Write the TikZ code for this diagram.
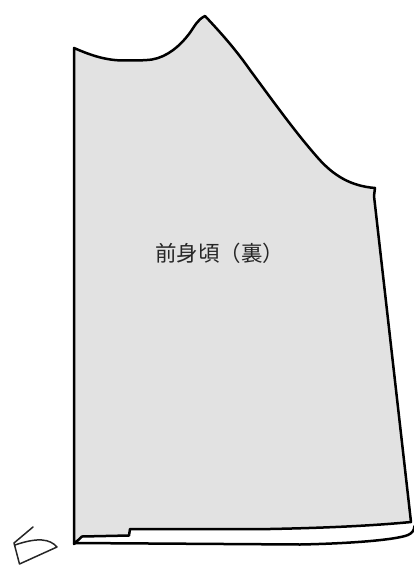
\documentclass[tikz,border=0pt]{standalone}
\usepackage{fontspec}
\newfontfamily\cjk{Noto Sans CJK JP}
\tikzset{outline/.style={draw=black,line width=2.5pt,line join=round,line cap=round},
 thinout/.style={draw=black!85,line width=1.5pt,line join=round,line cap=round},
 lbl/.style={font=\cjk\fontsize{21.5}{24}\selectfont,text=black!85,inner sep=0pt}}
\begin{document}
\begin{tikzpicture}[x=1pt,y=-1pt]
\useasboundingbox (0,0) rectangle (414,567);
% white hem band
\path[outline,fill=white] (74,543) -- (300,544.5) .. controls (350,543.5) and (395,540) .. (408,535) .. controls (412,533) and (414,531) .. (414.5,526);
% body
\path[outline,fill=black!11.5]
 (74,48) .. controls (88,54) and (103,60) .. (122,60.5)
 .. controls (135,60.5) and (145,60.5) .. (152,59.5)
 .. controls (167,57) and (180,46) .. (189,34)
 .. controls (195,26) and (197,20) .. (205,16)
 .. controls (222,34) and (236,50) .. (250,70)
 .. controls (270,97) and (295,132) .. (318,158)
 .. controls (333,175) and (350,186) .. (375,188)
 -- (374,196) -- (411,522)
 .. controls (370,526) and (320,528) .. (270,529)
 -- (130,529) -- (129,535.5) -- (82,536.5) -- (74,544) -- cycle;
\node[lbl] (title) at (219.5,253) {前身頃（裏）};
% small figure
\path[thinout] (33,527) -- (14,543) -- (19.5,564) -- (57,547)
 .. controls (50,539) and (38,537) .. (15,545);
\end{tikzpicture}
\end{document}
